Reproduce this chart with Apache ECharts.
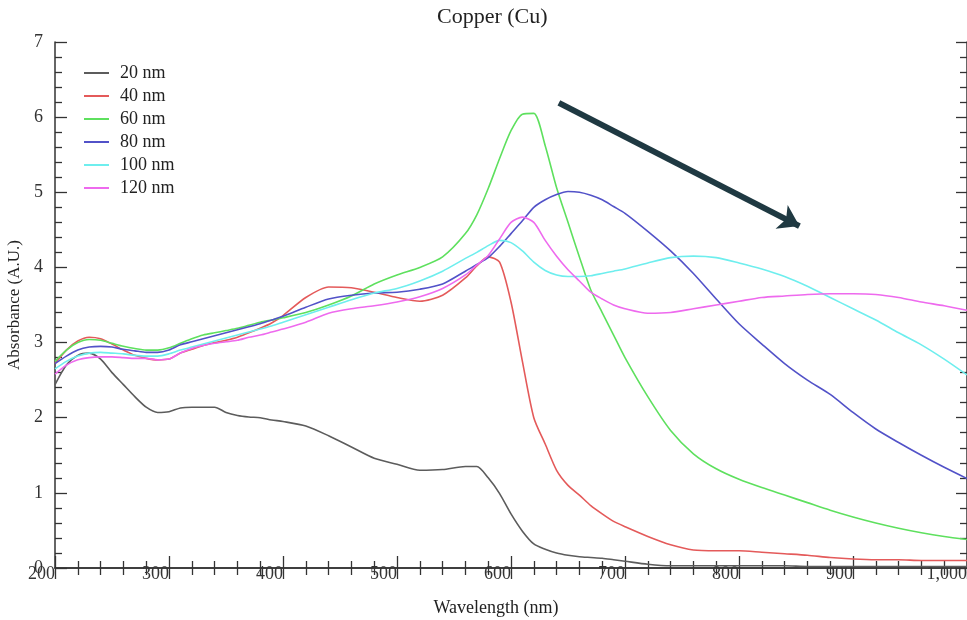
<!DOCTYPE html>
<html>
<head>
<meta charset="utf-8">
<script src="https://cdn.jsdelivr.net/npm/echarts@6/dist/echarts.min.js"></script>
<style>html,body{margin:0;padding:0;background:#fff;}#c{width:967px;height:620px;}</style>
</head>
<body>
<div id="c"></div>
<script>
const wavelengths = [200,210,220,230,240,250,260,270,280,290,300,310,320,330,340,350,360,370,380,390,400,420,440,460,480,500,520,540,560,570,580,590,600,610,620,630,640,650,660,670,680,690,700,720,740,760,780,800,820,840,860,880,900,920,940,960,980,1000];
const seriesNames = ['20 nm','40 nm','60 nm','80 nm','100 nm','120 nm'];
const nm20  = [2.44,2.70,2.83,2.86,2.78,2.60,2.44,2.28,2.14,2.07,2.08,2.13,2.14,2.14,2.14,2.07,2.03,2.01,2.00,1.97,1.95,1.89,1.76,1.61,1.46,1.38,1.30,1.31,1.35,1.35,1.20,0.99,0.72,0.49,0.32,0.25,0.20,0.17,0.15,0.14,0.13,0.11,0.09,0.05,0.03,0.03,0.03,0.03,0.03,0.03,0.02,0.02,0.02,0.02,0.02,0.02,0.02,0.02];
const nm40  = [2.72,2.90,3.02,3.07,3.05,2.98,2.90,2.83,2.79,2.77,2.78,2.86,2.91,2.96,3.00,3.03,3.07,3.13,3.19,3.26,3.36,3.60,3.74,3.73,3.67,3.60,3.55,3.63,3.86,4.02,4.14,4.07,3.54,2.75,2.00,1.65,1.30,1.10,0.97,0.83,0.72,0.62,0.55,0.42,0.31,0.24,0.23,0.23,0.21,0.19,0.17,0.14,0.12,0.11,0.11,0.10,0.10,0.10];
const nm60  = [2.75,2.90,3.00,3.04,3.03,2.99,2.95,2.92,2.90,2.90,2.93,2.99,3.05,3.10,3.13,3.16,3.19,3.23,3.27,3.30,3.33,3.40,3.50,3.62,3.78,3.90,4.00,4.14,4.45,4.70,5.05,5.45,5.82,6.04,6.05,5.62,5.06,4.60,4.14,3.70,3.40,3.10,2.80,2.28,1.83,1.52,1.32,1.18,1.07,0.97,0.87,0.77,0.68,0.60,0.53,0.47,0.42,0.38];
const nm80  = [2.72,2.82,2.90,2.94,2.95,2.94,2.91,2.89,2.87,2.87,2.90,2.97,3.01,3.05,3.09,3.13,3.17,3.21,3.25,3.30,3.35,3.47,3.58,3.63,3.66,3.67,3.71,3.78,3.95,4.04,4.13,4.28,4.45,4.62,4.80,4.90,4.97,5.01,5.00,4.96,4.90,4.81,4.72,4.48,4.22,3.92,3.58,3.25,2.98,2.72,2.50,2.31,2.07,1.85,1.67,1.50,1.34,1.19];
const nm100 = [2.65,2.75,2.82,2.86,2.87,2.86,2.85,2.83,2.82,2.82,2.85,2.90,2.94,2.98,3.02,3.06,3.10,3.14,3.18,3.22,3.27,3.37,3.47,3.57,3.66,3.72,3.82,3.95,4.12,4.20,4.29,4.36,4.33,4.22,4.07,3.96,3.90,3.88,3.88,3.89,3.92,3.95,3.98,4.06,4.13,4.15,4.13,4.06,3.98,3.88,3.75,3.60,3.45,3.30,3.13,2.97,2.78,2.57];
const nm120 = [2.58,2.70,2.77,2.80,2.81,2.81,2.80,2.79,2.79,2.77,2.78,2.86,2.92,2.96,2.99,3.01,3.03,3.07,3.10,3.14,3.18,3.27,3.39,3.45,3.49,3.54,3.61,3.72,3.90,4.03,4.16,4.38,4.60,4.67,4.60,4.36,4.15,3.97,3.82,3.67,3.58,3.50,3.45,3.39,3.40,3.45,3.50,3.55,3.60,3.62,3.64,3.65,3.65,3.64,3.60,3.54,3.49,3.43];
const seriesColors = ['#5c5c5c','#e45a5a','#5ee05e','#5252c8','#6eeeee','#ee6aee'];
const arrowStart = [642, 6.19];
const arrowEnd = [853, 4.55];

const allValues = [nm20, nm40, nm60, nm80, nm100, nm120];
const serif = 'Liberation Serif, Times New Roman, serif';
const axisColor = '#333';

const series = allValues.map((vals, i) => ({
  name: seriesNames[i],
  type: 'line',
  data: wavelengths.map((w, j) => [w, vals[j]]),
  showSymbol: false,
  smooth: 0.25,
  lineStyle: { width: 1.6, color: seriesColors[i] },
  itemStyle: { color: seriesColors[i] },
  emphasis: { disabled: true },
  animation: false,
  z: 2
}));
series[0].markLine = {
  silent: true,
  animation: false,
  symbol: ['none', 'arrow'],
  symbolSize: [20, 20],
  label: { show: false },
  lineStyle: { color: '#1f3942', width: 6, type: 'solid' },
  emphasis: { disabled: true },
  data: [[{ coord: arrowStart }, { coord: arrowEnd }]]
};

const tickCommon = (len) => ({ show: true, inside: true, length: len, lineStyle: { color: axisColor, width: 1.3 } });
const minorCommon = { show: true, splitNumber: 5, length: 7, lineStyle: { color: axisColor, width: 1.3 } };

const chart = echarts.init(document.getElementById('c'), null, { renderer: 'canvas' });
chart.setOption({
  backgroundColor: '#fff',
  animation: false,
  title: {
    text: 'Copper (Cu)',
    left: 432, top: 1,
    textStyle: { fontFamily: serif, fontSize: 22, fontWeight: 'normal', color: '#222' }
  },
  legend: {
    orient: 'vertical',
    left: 79, top: 59,
    itemWidth: 25, itemHeight: 2, itemGap: 5,
    icon: 'rect',
    data: seriesNames,
    textStyle: { fontFamily: serif, fontSize: 18, color: '#222', lineHeight: 18, padding: [0, 0, 0, 6] },
    selectedMode: false
  },
  grid: { left: 55, right: 0, top: 42, bottom: 52, containLabel: false, outerBoundsMode: 'none' },
  xAxis: [{
    type: 'value', min: 200, max: 1000, interval: 100,
    name: 'Wavelength (nm)', nameLocation: 'middle', nameGap: 31,
    nameTextStyle: { fontFamily: serif, fontSize: 18, color: '#222', padding: [0, 30, 0, 0] },
    axisLine: { show: true, lineStyle: { color: axisColor, width: 1.5 } },
    axisTick: tickCommon(12),
    minorTick: minorCommon,
    splitLine: { show: false },
    axisLabel: {
      fontFamily: serif, fontSize: 18, color: '#333', align: 'right', margin: -3,
      formatter: v => v.toLocaleString('en-US')
    }
  }, {
    type: 'value', position: 'top', min: 200, max: 1000, interval: 100,
    axisLine: { show: true, lineStyle: { color: axisColor, width: 1.5 } },
    axisTick: tickCommon(11),
    minorTick: minorCommon,
    splitLine: { show: false },
    axisLabel: { show: false }
  }],
  yAxis: [{
    type: 'value', min: 0, max: 7, interval: 1,
    name: 'Absorbance (A.U.)', nameLocation: 'middle', nameGap: 26,
    nameTextStyle: { fontFamily: serif, fontSize: 17, color: '#222' },
    axisLine: { show: true, lineStyle: { color: axisColor, width: 1.5 } },
    axisTick: tickCommon(12),
    minorTick: minorCommon,
    splitLine: { show: false },
    axisLabel: { fontFamily: serif, fontSize: 18, color: '#333', margin: 12 }
  }, {
    type: 'value', position: 'right', min: 0, max: 7, interval: 1,
    axisLine: { show: true, lineStyle: { color: axisColor, width: 1.5 } },
    axisTick: tickCommon(11),
    minorTick: minorCommon,
    splitLine: { show: false },
    axisLabel: { show: false }
  }],
  series: series
});
</script>
</body>
</html>
